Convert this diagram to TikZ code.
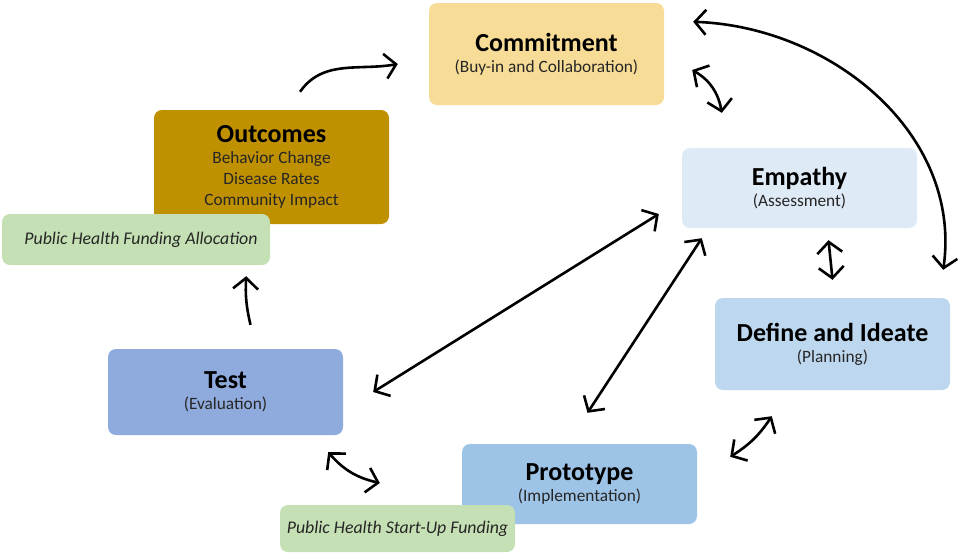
\documentclass[tikz,border=0pt]{standalone}
\usepackage{fontspec}
\setmainfont{Carlito}
\usetikzlibrary{arrows.meta}
\definecolor{commitcol}{RGB}{246,220,150}
\definecolor{empathycol}{RGB}{222,234,246}
\definecolor{definecol}{RGB}{189,215,238}
\definecolor{protocol}{RGB}{157,195,230}
\definecolor{testcol}{RGB}{143,170,220}
\definecolor{outcomecol}{RGB}{191,144,0}
\definecolor{fundcol}{RGB}{197,224,180}
\newcommand{\headfont}{\fontsize{26}{21}\bfseries\selectfont\color{black}}
\tikzstyle{arrow} = [draw, line width=2.6pt, arrows={-Straight Barb[length=11pt,width=25pt]}]

\begin{document}
\begin{tikzpicture}[x=1pt, y=1pt]
                    % Define styles for boxes and line
                    \tikzstyle{block} = [rectangle, fill=empathycol, rounded corners=8pt, minimum width=235pt, minimum height=80pt, inner sep=0pt, align=center, text=black!85, font=\fontsize{17.3}{21}\selectfont]
                    \tikzstyle{fund_block} = [block, fill=fundcol, minimum height=47pt, font=\fontsize{17.8}{21}\itshape\selectfont]  % funding block
                    \tikzstyle{line} = [arrow, arrows={Straight Barb[length=11pt,width=25pt]-Straight Barb[length=11pt,width=25pt]}]
                    \useasboundingbox (0,0) rectangle (965,-555);

                    % Place nodes
                    \node [block, fill=commitcol, minimum height=102pt] (commit) at (546.5,-54) {{\headfont Commitment}\\(Buy-in and Collaboration)};
                    \node [block] (empathy) at (799.5,-188) {{\headfont Empathy}\\(Assessment)};
                    \node [block, fill=definecol, minimum height=92pt] (define) at (832.5,-344) {{\headfont Define and Ideate}\\(Planning)};
                    \node [block, fill=protocol] (proto) at (579.5,-484) {{\headfont Prototype}\\(Implementation)};
                    \node [block, fill=testcol, minimum height=86pt] (test) at (225.5,-392) {{\headfont Test}\\(Evaluation)};
                    \node [block, fill=outcomecol, minimum height=114pt] (outcomes) at (271.5,-167) {{\headfont Outcomes}\\Behavior Change\\Disease Rates\\Community Impact};
                    \node [fund_block, minimum width=268pt, minimum height=51pt] (alloc) at (136,-239.5) {\hspace*{10pt}Public Health Funding Allocation};
                    \node [fund_block] (startup) at (397.5,-528.5) {Public Health Start-Up Funding};

                    % Draw edges
                    \path [arrow] ([xshift=28.5pt,yshift=18pt]outcomes.north) to[out=55, in=190] ([xshift=-31pt,yshift=-10pt]commit.west);
                    \path [line] ([xshift=29pt,yshift=-19pt]commit.north east) to[out=-2, in=82] ([xshift=-7pt,yshift=28pt]define.north east);
                    \path [line] ([xshift=28pt,yshift=-16pt]commit.east) to[out=-30, in=100] ([xshift=40pt,yshift=35pt]empathy.north west);
                    \path [line] ([xshift=29pt,yshift=-12pt]empathy.south) -- ([yshift=18pt]define.north);
                    \path [line] ([xshift=57pt,yshift=-26pt]define.south west) to[bend left=12] ([xshift=33pt,yshift=-13pt]proto.north east);
                    \path [line] ([xshift=8pt,yshift=31pt]proto.north) -- ([xshift=20pt,yshift=-10pt]empathy.south west);
                    \path [line] ([xshift=30pt]test.east) -- ([xshift=-23pt,yshift=-26pt]empathy.west);
                    \path [line] ([xshift=-15pt,yshift=-17pt]test.south east) to[bend right=18] ([xshift=-82pt,yshift=1pt]proto.west);
                    \path [arrow] ([xshift=25pt,yshift=24pt]test.north) to[bend left=8] ([xshift=-24pt,yshift=-11pt]alloc.south east);
                \end{tikzpicture}
\end{document}
